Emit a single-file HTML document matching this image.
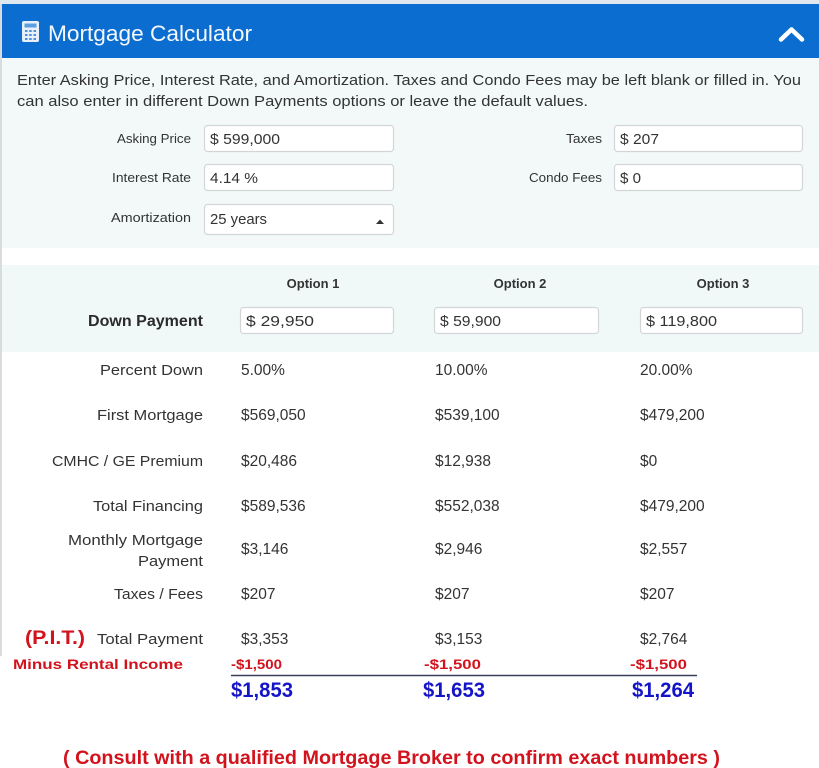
<!DOCTYPE html>
<html><head><meta charset="utf-8"><style>
html,body{margin:0;padding:0;background:#fff;}
svg{display:block;}
.t{font-family:"Liberation Sans",sans-serif;}
</style></head><body>
<svg width="819" height="768" viewBox="0 0 819 768" xmlns="http://www.w3.org/2000/svg" class="t">
<rect x="0" y="0" width="819" height="768" fill="#fff"/>
<!-- header -->
<rect x="0" y="0" width="819" height="4" fill="#dfe7ef"/>
<rect x="1" y="4" width="818" height="54" fill="#0b6dcf"/>
<!-- mint top area -->
<rect x="2" y="58" width="817" height="190" fill="#f3f9f9"/>
<rect x="2" y="265" width="817" height="87" fill="#f1f9f8"/>
<!-- left border -->
<rect x="0" y="4" width="2" height="652" fill="#d8dcdf"/>
<!-- calculator icon -->
<rect x="22" y="21" width="17" height="21" rx="2" fill="#e8f1fb"/>
<rect x="24.5" y="23.5" width="12" height="4" fill="#5a9ee0"/>
<g fill="#4a93dc">
<rect x="25" y="30" width="2.5" height="2"/><rect x="29.2" y="30" width="2.5" height="2"/><rect x="33.5" y="30" width="2.5" height="2"/>
<rect x="25" y="34" width="2.5" height="2"/><rect x="29.2" y="34" width="2.5" height="2"/><rect x="33.5" y="34" width="2.5" height="2"/>
<rect x="25" y="38" width="2.5" height="2"/><rect x="29.2" y="38" width="2.5" height="2"/><rect x="33.5" y="38" width="2.5" height="2"/>
</g>
<text x="48" y="41" font-size="22" fill="#f4f8fd" textLength="204" lengthAdjust="spacingAndGlyphs">Mortgage Calculator</text>
<polyline points="781,39.5 791.5,29.5 802,39.5" fill="none" stroke="#fff" stroke-width="4.5" stroke-linecap="round" stroke-linejoin="round"/>
<!-- description -->
<text x="17" y="85" font-size="15" fill="#333" textLength="784" lengthAdjust="spacingAndGlyphs">Enter Asking Price, Interest Rate, and Amortization. Taxes and Condo Fees may be left blank or filled in. You</text>
<text x="17" y="106" font-size="15" fill="#333" textLength="571" lengthAdjust="spacingAndGlyphs">can also enter in different Down Payments options or leave the default values.</text>
<!-- input labels -->
<g font-size="12.5" fill="#333" text-anchor="end">
<text x="191" y="143" textLength="74" lengthAdjust="spacingAndGlyphs">Asking Price</text>
<text x="191" y="182" textLength="79" lengthAdjust="spacingAndGlyphs">Interest Rate</text>
<text x="191" y="222" textLength="80" lengthAdjust="spacingAndGlyphs">Amortization</text>
<text x="602" y="143" textLength="36" lengthAdjust="spacingAndGlyphs">Taxes</text>
<text x="602" y="182" textLength="73" lengthAdjust="spacingAndGlyphs">Condo Fees</text>
</g>
<!-- input boxes -->
<g fill="#fff" stroke="#d2d6d8" stroke-width="1.2">
<rect x="204.5" y="125.5" width="189" height="26" rx="3"/>
<rect x="204.5" y="164.5" width="189" height="26" rx="3"/>
<rect x="204.5" y="204.5" width="189" height="30" rx="3"/>
<rect x="614.5" y="125.5" width="188" height="26" rx="3"/>
<rect x="614.5" y="164.5" width="188" height="26" rx="3"/>
</g>
<g font-size="15" fill="#333">
<text x="210" y="144" textLength="70" lengthAdjust="spacingAndGlyphs">$ 599,000</text>
<text x="210" y="183" textLength="48" lengthAdjust="spacingAndGlyphs">4.14 %</text>
<text x="210" y="224" textLength="57" lengthAdjust="spacingAndGlyphs">25 years</text>
<text x="620" y="144" textLength="39" lengthAdjust="spacingAndGlyphs">$ 207</text>
<text x="620" y="183" textLength="21" lengthAdjust="spacingAndGlyphs">$ 0</text>
</g>
<polygon points="376,224 380,219.5 384,224" fill="#333"/>
<!-- options header -->
<g font-size="13" font-weight="bold" fill="#333" text-anchor="middle">
<text x="313" y="288">Option 1</text>
<text x="520" y="288">Option 2</text>
<text x="723" y="288">Option 3</text>
</g>
<text x="203" y="326" font-size="16" font-weight="bold" fill="#2b2b2b" text-anchor="end" textLength="115" lengthAdjust="spacingAndGlyphs">Down Payment</text>
<g fill="#fff" stroke="#d2d6d8" stroke-width="1.2">
<rect x="240.5" y="307.5" width="153" height="26" rx="3"/>
<rect x="434.5" y="307.5" width="164" height="26" rx="3"/>
<rect x="640.5" y="307.5" width="162" height="26" rx="3"/>
</g>
<g font-size="15" fill="#333">
<text x="246" y="326" textLength="68" lengthAdjust="spacingAndGlyphs">$ 29,950</text>
<text x="440" y="326" textLength="61" lengthAdjust="spacingAndGlyphs">$ 59,900</text>
<text x="646" y="326" textLength="71" lengthAdjust="spacingAndGlyphs">$ 119,800</text>
</g>
<!-- rows labels -->
<g font-size="15" fill="#333" text-anchor="end">
<text x="203" y="375" textLength="103" lengthAdjust="spacingAndGlyphs">Percent Down</text>
<text x="203" y="420" textLength="106" lengthAdjust="spacingAndGlyphs">First Mortgage</text>
<text x="203" y="466" textLength="151" lengthAdjust="spacingAndGlyphs">CMHC / GE Premium</text>
<text x="203" y="511" textLength="110" lengthAdjust="spacingAndGlyphs">Total Financing</text>
<text x="203" y="545" textLength="135" lengthAdjust="spacingAndGlyphs">Monthly Mortgage</text>
<text x="203" y="566" textLength="65" lengthAdjust="spacingAndGlyphs">Payment</text>
<text x="203" y="599" textLength="89" lengthAdjust="spacingAndGlyphs">Taxes / Fees</text>
<text x="203" y="644" textLength="106" lengthAdjust="spacingAndGlyphs">Total Payment</text>
</g>
<!-- values -->
<g font-size="15.5" fill="#333">
<text x="241" y="375">5.00%</text>
<text x="241" y="420">$569,050</text>
<text x="241" y="466">$20,486</text>
<text x="241" y="511">$589,536</text>
<text x="241" y="554">$3,146</text>
<text x="241" y="599">$207</text>
<text x="241" y="644">$3,353</text>
<text x="435" y="375">10.00%</text>
<text x="435" y="420">$539,100</text>
<text x="435" y="466">$12,938</text>
<text x="435" y="511">$552,038</text>
<text x="435" y="554">$2,946</text>
<text x="435" y="599">$207</text>
<text x="435" y="644">$3,153</text>
<text x="640" y="375">20.00%</text>
<text x="640" y="420">$479,200</text>
<text x="640" y="466">$0</text>
<text x="640" y="511">$479,200</text>
<text x="640" y="554">$2,557</text>
<text x="640" y="599">$207</text>
<text x="640" y="644">$2,764</text>
</g>
<!-- red annotations -->
<g fill="#d2121c" font-weight="bold">
<text x="25" y="644" font-size="19" textLength="60" lengthAdjust="spacingAndGlyphs">(P.I.T.)</text>
<text x="13" y="669" font-size="14" textLength="170" lengthAdjust="spacingAndGlyphs">Minus Rental Income</text>
<text x="231" y="669" font-size="14" textLength="51" lengthAdjust="spacingAndGlyphs">-$1,500</text>
<text x="424" y="669" font-size="14" textLength="57" lengthAdjust="spacingAndGlyphs">-$1,500</text>
<text x="630" y="669" font-size="14" textLength="57" lengthAdjust="spacingAndGlyphs">-$1,500</text>
<text x="63" y="764" font-size="19" textLength="657" lengthAdjust="spacingAndGlyphs">( Consult with a qualified Mortgage Broker to confirm exact numbers )</text>
</g>
<line x1="231" y1="675.5" x2="697" y2="675.5" stroke="#3a3f5a" stroke-width="1.5"/>
<g fill="#1414c8" font-weight="bold" font-size="21">
<text x="231" y="697" textLength="62" lengthAdjust="spacingAndGlyphs">$1,853</text>
<text x="423" y="697" textLength="62" lengthAdjust="spacingAndGlyphs">$1,653</text>
<text x="632" y="697" textLength="62" lengthAdjust="spacingAndGlyphs">$1,264</text>
</g>
</svg>
</body></html>
